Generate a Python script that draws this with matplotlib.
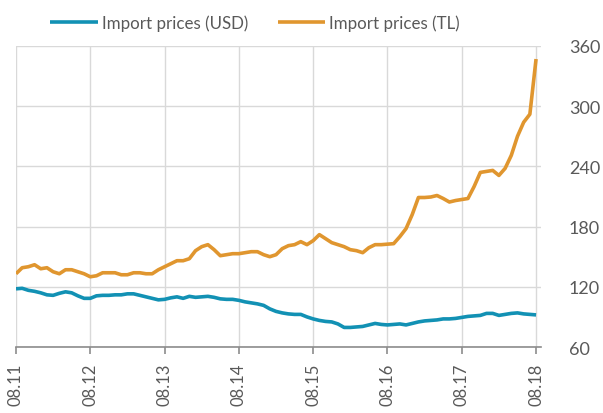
import numpy as np
import matplotlib.pyplot as plt

plt.rcParams["font.family"] = ["Lato", "DejaVu Sans"]

# monthly index, 08.2011 .. 08.2018
usd_prices = [
    118, 118.5, 116.5, 115.5, 114, 112, 111.5, 113.5, 115, 114, 111, 108.5,
    108.5, 111, 111.5, 111.5, 112, 112, 113, 113, 111.5, 110, 108.5, 107,
    107.5, 109, 110, 108.5, 110.5, 109.5, 110, 110.5, 109.5, 108, 107.5, 107.5,
    106.5, 105, 104, 103, 101.5, 98, 95.5, 94, 93, 92.5, 92.5, 90,
    88, 86.5, 85.5, 85, 83, 79.5, 79.5, 80, 80.5, 82, 83.5, 82.5,
    82, 82.5, 83, 82, 83.5, 85, 86, 86.5, 87, 88, 88, 88.5,
    89.5, 90.5, 91, 91.5, 93.5, 93.5, 91.5, 92.5, 93.5, 94, 93, 92.5,
    92,
]
tl_prices = [
    133, 139, 140, 142, 138, 139, 135, 133, 137, 137, 135, 133,
    130, 131, 134, 134, 134, 132, 132, 134, 134, 133, 133, 137,
    140, 143, 146, 146, 148, 156, 160, 162, 157, 151, 152, 153,
    153, 154, 155, 155, 152, 150, 152, 158, 161, 162, 165, 162,
    166, 172, 168, 164, 162, 160, 157, 156, 154, 159, 162, 162,
    162.5, 163, 170, 178, 192, 209, 209, 209.5, 211, 208, 204.5, 206,
    207, 208, 220, 234, 235, 236, 231, 238, 251, 270, 284, 292,
    347,
]
year_labels = ["08.11", "08.12", "08.13", "08.14", "08.15", "08.16", "08.17", "08.18"]
y_ticks = [60, 120, 180, 240, 300, 360]

months = np.arange(len(usd_prices))

fig = plt.figure(figsize=(6.03, 4.14), dpi=100)
ax = fig.add_axes([0.0265, 0.1594, 0.8707, 0.7271])

blue = "#1291B4"
orange = "#E0962F"
ax.plot(months, usd_prices, color=blue, lw=2.6, label="Import prices (USD)", solid_capstyle="butt")
ax.plot(months, tl_prices, color=orange, lw=2.6, label="Import prices (TL)", solid_capstyle="butt")

ax.set_xlim(0, 84.8)
ax.set_ylim(60, 360)
ax.set_xticks(np.arange(0, 85, 12))
ax.set_xticklabels(year_labels, rotation=90)
ax.set_yticks(y_ticks)
ax.yaxis.tick_right()

ax.grid(True, color="#D9D9D9", lw=1.0)
ax.set_axisbelow(True)
for side in ["top", "right", "left"]:
    ax.spines[side].set_visible(False)
ax.spines["bottom"].set_color("#8C8C8C")
ax.spines["bottom"].set_linewidth(1.2)

ax.tick_params(axis="y", length=0, pad=20, labelsize=13, labelcolor="#595959")
ax.tick_params(axis="x", length=5, width=1.2, color="#8C8C8C", pad=6,
               labelsize=12, labelcolor="#595959")

fig.legend(loc="upper center", bbox_to_anchor=(0.423, 1.0), ncol=2, frameon=False,
           fontsize=12.2, handlelength=2.8, handletextpad=0.25, columnspacing=1.75,
           labelcolor="#595959")

fig.savefig("out.png", dpi=100)
